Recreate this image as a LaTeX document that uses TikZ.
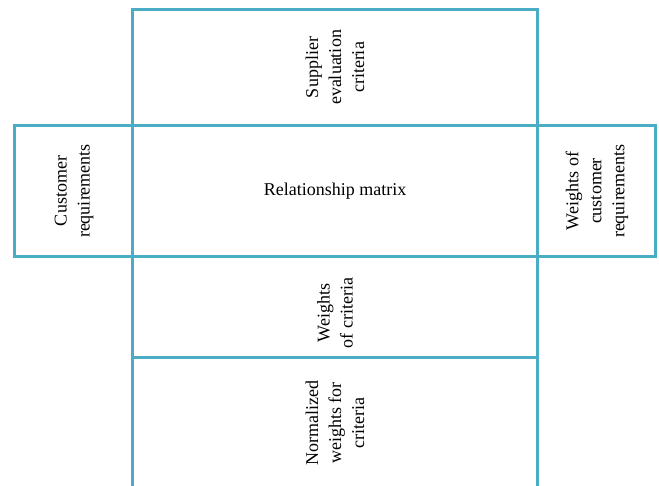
\documentclass[tikz,border=0pt]{standalone}
\usepackage{fontspec}
\setmainfont{Liberation Serif}
\definecolor{framecol}{RGB}{75,172,198}
\tikzset{
  frameline/.style={draw=framecol, line width=3pt, line cap=rect},
  vlabel/.style={rotate=90, align=center, inner sep=0pt, font=\fontsize{18}{23}\selectfont, text=black},
  hlabel/.style={align=center, inner sep=0pt, font=\fontsize{18}{23}\selectfont, text=black}
}
\begin{document}
\begin{tikzpicture}[x=1pt,y=-1pt]
\useasboundingbox (0,0) rectangle (659,485);
% grid corners
\coordinate (tl) at (132,9.5);
\coordinate (tr) at (537,9.5);
\coordinate (bl) at (132,486);
\coordinate (br) at (537,486);
% frame lines
\draw[frameline] (bl) -- (tl) -- (tr) -- (br);
\draw[frameline] (14,125.5) -- (655,125.5);
\draw[frameline] (14,256.5) -- (655,256.5);
\draw[frameline] (14,125.5) -- (14,256.5);
\draw[frameline] (655,125.5) -- (655,256.5);
\draw[frameline] (132,357) -- (537,357);
% labels
\node[vlabel] (sup) at (335,67.5) {Supplier\\evaluation\\criteria};
\node[vlabel] (cust) at (74,191) {Customer\\requirements};
\node[hlabel] (rel) at (335,191) {Relationship matrix};
\node[vlabel] (wcr) at (597,191) {Weights of\\customer\\requirements};
\node[vlabel] (wc) at (335,313) {Weights\\of criteria};
\node[vlabel] (nw) at (335,423) {Normalized\\weights for\\criteria};
\end{tikzpicture}
\end{document}
